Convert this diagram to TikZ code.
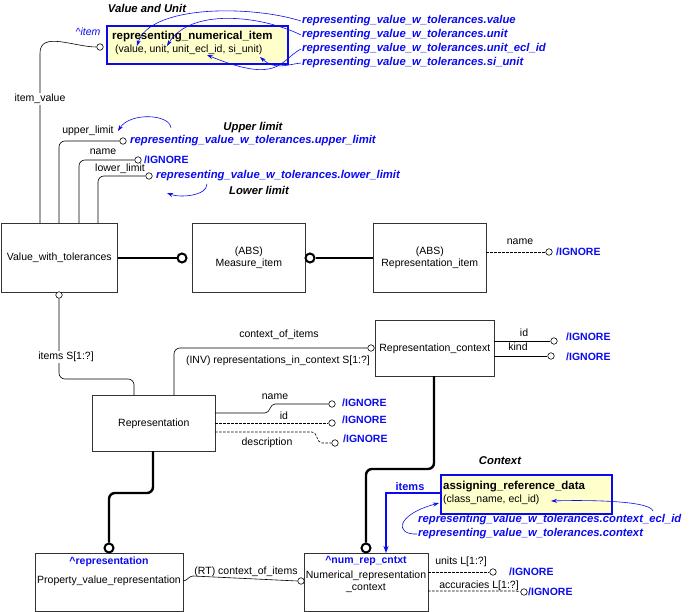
\documentclass[tikz,border=0pt]{standalone}
\usepackage{fontspec}
\setmainfont{Liberation Sans}
\usetikzlibrary{arrows.meta}
\definecolor{bl}{RGB}{10,10,240}
\definecolor{yl}{RGB}{255,255,204}
\begin{document}
\begin{tikzpicture}[x=1pt,y=-1pt,
  font=\fontsize{10.5}{12}\selectfont,
  ent/.style={draw=black!80,fill=white,line width=0.6pt,align=center,inner sep=0pt},
  ln/.style={line width=0.6pt},
  dl/.style={line width=0.6pt,dashed,dash pattern=on 2.5pt off 1.5pt},
  thk/.style={line width=2.4pt},
  sc/.style={circle,draw,fill=white,line width=0.6pt,inner sep=0pt,minimum size=6.5pt},
  bc/.style={circle,draw,fill=white,line width=2pt,inner sep=0pt,minimum size=9pt},
  lab/.style={inner sep=1pt},
  ign/.style={text=bl,font=\fontsize{10.5}{12}\selectfont\bfseries,anchor=west,inner sep=1pt},
  ref/.style={text=bl,font=\fontsize{11.3}{13}\selectfont\bfseries\itshape,anchor=west,inner sep=1pt},
  ttl/.style={font=\fontsize{11.3}{13}\selectfont\bfseries\itshape},
  barr/.style={draw=bl,line width=0.6pt,-{Stealth[length=6pt,width=4pt]}},
  sel/.style={draw=bl,line width=2.2pt,fill=yl,anchor=north west,inner sep=0pt}]
\useasboundingbox (0,0) rectangle (699,612);
% boxes
\node[ent,minimum width=116pt,minimum height=69pt,anchor=north west] (vwt) at (1,223) {Value\_with\_tolerances};
\node[ent,minimum width=113pt,minimum height=69pt,anchor=north west] (mi) at (192,223) {(ABS)\\Measure\_item};
\node[ent,minimum width=113pt,minimum height=69pt,anchor=north west] (ri) at (373,223) {(ABS)\\Representation\_item};
\node[ent,minimum width=119pt,minimum height=56pt,anchor=north west] (rc) at (375,320) {Representation\_context};
\node[ent,minimum width=123pt,minimum height=56pt,anchor=north west] (rep) at (92,395) {Representation};
\node[ent,minimum width=148pt,minimum height=58pt,anchor=north west] (pvr) at (35,553) {};
\node[ent,minimum width=124pt,minimum height=58pt,anchor=north west] (nrc) at (304,553) {};
\node[text=bl,font=\fontsize{10.5}{12}\selectfont\bfseries] (pvrt) at (109,562) {\textasciicircum representation};
\node (pvrn) at (109,581) {Property\_value\_representation};
\node[text=bl,font=\fontsize{10.5}{12}\selectfont\bfseries] (nrct) at (366,561) {\textasciicircum num\_rep\_cntxt};
\node[align=center] (nrcn) at (366,582) {Numerical\_representation\\\_context};
% selected boxes
\node[sel,minimum width=181pt,minimum height=38pt] (rni) at (106,25) {};
\node[anchor=west,font=\fontsize{11.5}{13}\selectfont\bfseries,inner sep=0pt] (rnit) at (112,37) {representing\_numerical\_item};
\node[anchor=west,inner sep=0pt] (rnia) at (115,50) {(value, unit, unit\_ecl\_id, si\_unit)};
\node[sel,minimum width=171pt,minimum height=39pt] (ard) at (440,474) {};
\node[anchor=west,font=\fontsize{11.5}{13}\selectfont\bfseries,inner sep=0pt] (ardt) at (443,487) {assigning\_reference\_data};
\node[anchor=west,inner sep=0pt] (arda) at (443,500) {(class\_name, ecl\_id)};
% titles
\node[ttl] (t1) at (147,8) {Value and Unit};
\node[ttl] (t2) at (253,128) {Upper limit};
\node[ttl] (t3) at (259,190) {Lower limit};
\node[ttl] (t4) at (500,461) {Context};
% top attributes
\node[sc] (c1) at (100,47) {};
\node[text=bl,font=\fontsize{10.5}{12}\selectfont\itshape] (it) at (88,32) {\textasciicircum item};
\draw[ln] (40,223) -- (40,53) to[out=90,in=180] (c1.west);
\node[lab,fill=white] (ivl) at (40,99) {item\_value};
\node[sc] (c2) at (123,141) {};
\draw[ln] (59,223) -- (59,147) to[out=90,in=180] (65,141) -- (c2.west);
\node[lab] at (88,131) {upper\_limit};
\node[ref] (ul) at (129,141) {representing\_value\_w\_tolerances.upper\_limit};
\node[sc] (c3) at (138,160) {};
\draw[ln] (79,223) -- (79,166) to[out=90,in=180] (85,160) -- (c3.west);
\node[lab] at (103,152) {name};
\node[ign] at (143,160) {/IGNORE};
\node[sc] (c4) at (149,176) {};
\draw[ln] (98,223) -- (98,182) to[out=90,in=180] (104,176) -- (c4.west);
\node[lab] at (120,169) {lower\_limit};
\node[ref] (ll) at (155,176) {representing\_value\_w\_tolerances.lower\_limit};
\draw[barr] (171,128) .. controls (170,114) and (130,112) .. (118,131);
\draw[barr] (207,184) .. controls (207,196) and (180,198) .. (167,193);
% value refs
\node[ref] (r1) at (301,21) {representing\_value\_w\_tolerances.value};
\node[ref] (r2) at (301,35) {representing\_value\_w\_tolerances.unit};
\node[ref] (r3) at (301,49) {representing\_value\_w\_tolerances.unit\_ecl\_id};
\node[ref] (r4) at (301,63) {representing\_value\_w\_tolerances.si\_unit};
\draw[barr] (r1.west) .. controls (250,5) and (150,5) .. (137,46);
\draw[barr] (r2.west) .. controls (260,15) and (190,8) .. (167,46);
\draw[barr] (r3.west) .. controls (280,60) and (280,85) .. (207,55);
\draw[barr] (r4.west) .. controls (285,65) and (275,70) .. (260,57);
% thick middle
\node[bc] (b1) at (182,258) {};
\node[bc] (b2) at (310,258) {};
\draw[thk] (vwt.east|-0,258) -- (b1.west);
\draw[thk] (ri.west|-0,258) -- (b2.east);
\node[sc] (c5) at (549,252) {};
\draw[dl] (486,252) -- (c5.west);
\node[lab] at (520,242) {name};
\node[ign] at (555,252) {/IGNORE};
% items
\node[sc] (c6) at (59,295) {};
\draw[ln] (c6.south) -- (59,373) to[out=-90,in=180] (65,379) -- (128,379) to[out=0,in=90] (134,385) -- (134,395);
\node[lab,fill=white] at (66,357) {items S[1:?]};
% context_of_items
\node[sc] (c7) at (371,348) {};
\draw[ln] (174,395) -- (174,354) to[out=90,in=180] (180,348) -- (c7.west);
\node[lab] at (279,335) {context\_of\_items};
\node[lab] at (278,361) {(INV) representations\_in\_context S[1:?]};
% rc attributes
\node[sc] (c8) at (554,341) {};
\draw[ln] (494,341) -- (c8.west);
\node[lab] at (524,333) {id};
\node[ign] at (565,337) {/IGNORE};
\node[sc] (c9) at (551,356) {};
\draw[ln] (494,356) -- (c9.west);
\node[lab] at (518,347) {kind};
\node[ign] at (565,357) {/IGNORE};
% rep attributes
\node[sc] (c10) at (332,404) {};
\draw[ln] (215,413) -- (265,413) to[out=0,in=180] (275,404) -- (c10.west);
\node[lab] at (275,397) {name};
\node[ign] at (341,403) {/IGNORE};
\node[sc] (c11) at (332,423) {};
\draw[dl] (215,423) -- (c11.west);
\node[lab] at (284,416) {id};
\node[ign] at (341,420) {/IGNORE};
\node[sc] (c12) at (335,443) {};
\draw[dl] (215,432) -- (312,432) to[out=0,in=180] (322,443) -- (c12.west);
\node[lab] at (267,443) {description};
\node[ign] at (342,439) {/IGNORE};
% thick links
\node[bc] (b3) at (109,548) {};
\draw[thk] (153,451) -- (153,487) to[out=-90,in=0] (147,493) -- (115,493) to[out=180,in=90] (109,499) -- (b3.north);
\node[bc] (b4) at (366,548) {};
\draw[thk] (434,376) -- (434,463) to[out=-90,in=0] (428,469) -- (372,469) to[out=180,in=90] (366,475) -- (b4.north);
% RT
\node[sc] (c13) at (301,581) {};
\draw[ln] (183,581) to[out=0,in=180] (193,576) -- (c13.west);
\node[lab] at (246,572) {(RT) context\_of\_items};
% nrc attributes
\node[sc] (c14) at (493,572) {};
\draw[dl] (428,572) -- (c14.west);
\node[lab] at (461,562) {units L[1:?]};
\node[ign] at (508,572) {/IGNORE};
\node[sc] (c15) at (524,592) {};
\draw[dl] (428,591) -- (516,591) -- (c15.west);
\node[lab] at (479,586) {accuracies L[1:?]};
\node[ign] at (527,592) {/IGNORE};
% items blue
\draw[draw=bl,line width=1.2pt,-{Stealth[length=7pt,width=5pt]}] (440,493) -- (386,493) -- (386,553);
\node[text=bl,font=\fontsize{11}{12}\selectfont\bfseries] at (410,487) {items};
% context refs
\node[ref] (r5) at (417,520) {representing\_value\_w\_tolerances.context\_ecl\_id};
\node[ref] (r6) at (417,534) {representing\_value\_w\_tolerances.context};
\draw[barr] (653,511) .. controls (650,500) and (580,500) .. (551,501);
\draw[barr] (r6.west) .. controls (395,535) and (395,515) .. (439,503);
\end{tikzpicture}
\end{document}
